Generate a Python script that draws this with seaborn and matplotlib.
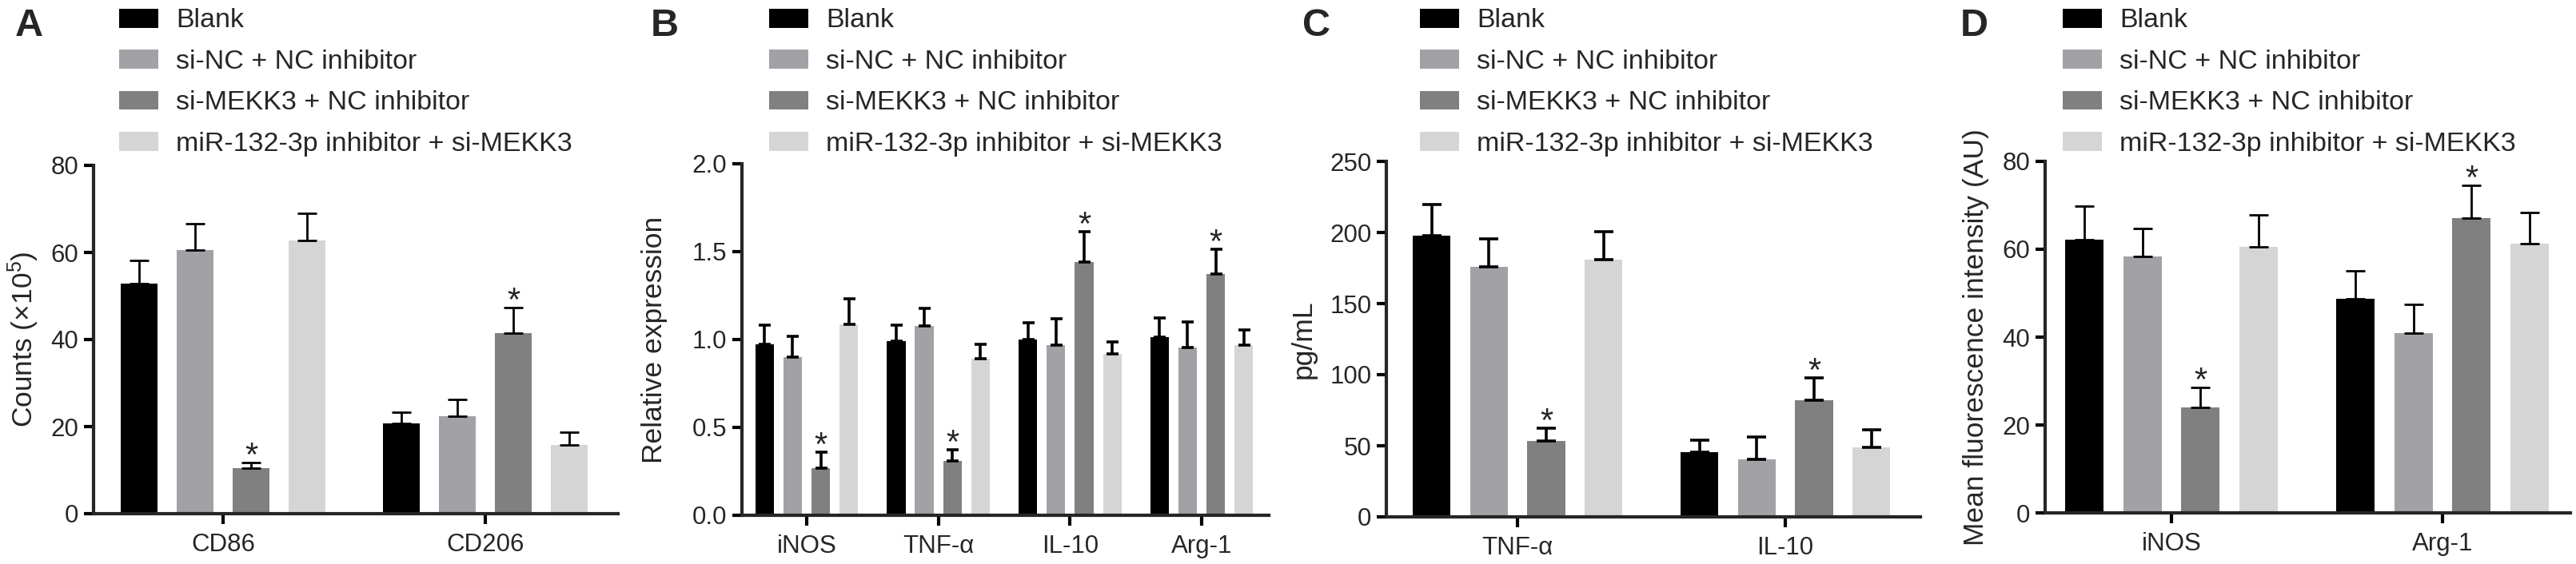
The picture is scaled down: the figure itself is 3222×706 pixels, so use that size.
import matplotlib
matplotlib.use("Agg")
import matplotlib.pyplot as plt
from matplotlib.patches import Patch
from matplotlib.ticker import FormatStrFormatter
import pandas as pd
import seaborn as sns

GROUPS = ["Blank", "si-NC + NC inhibitor", "si-MEKK3 + NC inhibitor",
          "miR-132-3p inhibitor + si-MEKK3"]
COLORS = ["#000000", "#a2a2a6", "#808080", "#d5d5d5"]
STAR_GROUP = "si-MEKK3 + NC inhibitor"

# A - flow cytometry counts, rows follow GROUPS
a_markers = ["CD86", "CD206"]
a_means = [[52.8, 20.8], [60.5, 22.3], [10.4, 41.4], [62.7, 15.8]]
a_sems = [[5.4, 2.5], [6.1, 3.9], [1.4, 5.9], [6.2, 3.0]]

# B - qPCR relative expression
b_markers = ["iNOS", "TNF-α", "IL-10", "Arg-1"]
b_means = [[0.975, 0.99, 1.0, 1.012], [0.90, 1.078, 0.97, 0.955],
           [0.27, 0.31, 1.44, 1.374], [1.086, 0.893, 0.918, 0.967]]
b_sems = [[0.105, 0.09, 0.095, 0.113], [0.12, 0.10, 0.15, 0.145],
          [0.09, 0.065, 0.173, 0.14], [0.144, 0.082, 0.07, 0.086]]

# C - ELISA
c_markers = ["TNF-α", "IL-10"]
c_means = [[197.9, 45.5], [176.0, 40.7], [53.1, 82.2], [180.7, 48.8]]
c_sems = [[21.7, 8.6], [19.3, 15.5], [9.1, 15.5], [19.7, 12.2]]

# D - immunofluorescence
d_markers = ["iNOS", "Arg-1"]
d_means = [[62.2, 48.7], [58.3, 41.0], [24.0, 67.1], [60.6, 61.2]]
d_sems = [[7.7, 6.4], [6.4, 6.4], [4.6, 7.4], [7.3, 7.1]]

W, H = 3222, 706

sns.set_style("ticks")
plt.rcParams["font.family"] = ["Liberation Sans", "DejaVu Sans"]
plt.rcParams["mathtext.default"] = "regular"


def to_df(markers, means):
    rows = []
    for g, vals in zip(GROUPS, means):
        for m, v in zip(markers, vals):
            rows.append({"marker": m, "group": g, "value": v})
    return pd.DataFrame(rows)


def draw_panel(fig, box, letter, letter_x, legend_x, markers, means, sems,
               ylabel, ylabel_x, yticks, xlim, fmt=None, cap=8.3, elw=2.2):
    left, right, top, bottom = box
    ax = fig.add_axes([left / W, (H - bottom) / H, (right - left) / W, (bottom - top) / H])
    df = to_df(markers, means)
    sns.barplot(data=df, x="marker", y="value", hue="group", hue_order=GROUPS,
                order=markers, palette=COLORS, saturation=1, width=0.855, gap=0.34,
                errorbar=None, linewidth=0, legend=False, ax=ax)

    bar_sets = list(ax.containers)
    for g, bars, err in zip(GROUPS, bar_sets, sems):
        xs = [b.get_x() + b.get_width() / 2 for b in bars]
        hs = [b.get_height() for b in bars]
        ax.errorbar(xs, hs, yerr=[[0] * len(err), err], fmt="none", ecolor="black",
                    elinewidth=elw, capsize=cap, capthick=elw, zorder=3)
        if g == STAR_GROUP:
            for x, h, e in zip(xs, hs, err):
                ax.annotate("*", (x, h + e), xytext=(0, -3), textcoords="offset points",
                            ha="center", va="baseline", fontsize=30)

    ax.set_xlim(*xlim)
    ax.set_ylim(yticks[0], yticks[-1])
    ax.set_yticks(yticks)
    if fmt:
        ax.yaxis.set_major_formatter(FormatStrFormatter(fmt))
    ax.set_xlabel("")
    ax.set_ylabel(ylabel, fontsize=25.5)
    ax.yaxis.set_label_coords(ylabel_x, 0.5)
    sns.despine(ax=ax)
    for s in ("left", "bottom"):
        ax.spines[s].set_linewidth(3)
    ax.tick_params(axis="y", length=8.5, width=3, pad=5, labelsize=22.5, color="black")
    ax.tick_params(axis="x", length=9, width=3, pad=8, labelsize=22.5, color="black")

    fig.text(letter_x / W, 1 - 45 / H, letter, fontsize=35, fontweight="bold",
             ha="left", va="baseline")
    handles = [Patch(facecolor=c, edgecolor="none", label=g) for g, c in zip(GROUPS, COLORS)]
    ax.legend(handles=handles, loc="upper left", bbox_to_anchor=(legend_x / W, 1 - 10.5 / H),
              bbox_transform=fig.transFigure, frameon=False, fontsize=24.5,
              handlelength=1.44, handleheight=0.7, handletextpad=0.65,
              labelspacing=0.6, borderpad=0, borderaxespad=0)
    return ax


fig = plt.figure(figsize=(W / 100, H / 100), dpi=100)

draw_panel(fig, (117, 773, 207, 643), "A", 19, 149, a_markers, a_means, a_sems,
           "Counts (×10$^5$)", -0.101, [0, 20, 40, 60, 80], (-0.494, 1.506),
           cap=8.3, elw=2.0)
draw_panel(fig, (928, 1587, 205, 645), "B", 814, 962, b_markers, b_means, b_sems,
           "Relative expression", -0.141, [0, 0.5, 1.0, 1.5, 2.0], (-0.492, 3.51),
           fmt="%.1f", cap=5.4, elw=2.6)
draw_panel(fig, (1734, 2402, 202, 647), "C", 1629, 1776, c_markers, c_means, c_sems,
           "pg/mL", -0.130, [0, 50, 100, 150, 200, 250], (-0.49, 1.504),
           cap=8.3, elw=2.6)
draw_panel(fig, (2558, 3215, 202, 642), "D", 2452, 2580, d_markers, d_means, d_sems,
           "Mean fluorescence intensity (AU)", -0.106, [0, 20, 40, 60, 80],
           (-0.466, 1.472), cap=8.6, elw=2.0)

fig.savefig("out.png", dpi=100, facecolor="white")
